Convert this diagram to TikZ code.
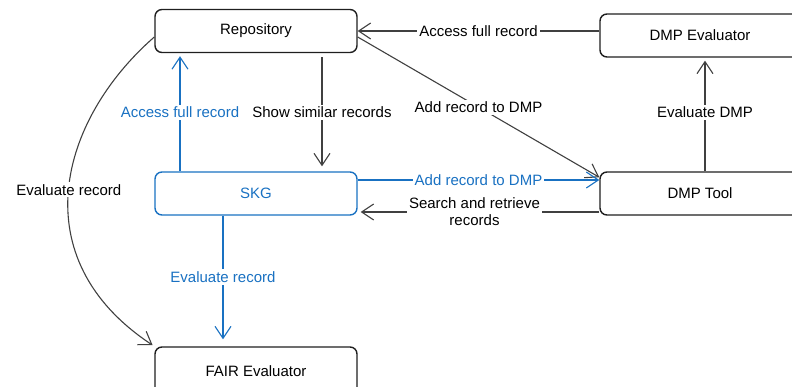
\documentclass[tikz,border=0pt]{standalone}
\usepackage{fontspec}
\setmainfont{Liberation Sans}
\usepackage{tikz}
\usetikzlibrary{arrows.meta,positioning}
\definecolor{skgblue}{HTML}{1971C2}
\definecolor{linegray}{HTML}{404040}
\tikzset{
    box/.style={draw=black!88, line width=1.4pt, rounded corners=7pt,
        minimum width=202pt, minimum height=43pt, inner sep=0pt,
        font=\fontsize{15}{17}\selectfont},
    flow/.style={draw=linegray, line width=1.1pt,
        -{Straight Barb[length=12pt,width=16pt]}},
    lbl/.style={fill=white, inner sep=2pt, align=center,
        font=\fontsize{15}{17}\selectfont},
}

\begin{document}
\begin{tikzpicture}[x=1pt, y=-1pt]
                \useasboundingbox (0,0) rectangle (792,387);
                % boxes
                \node[box] (repo)    at (256,31)    {Repository};
                \node[box, minimum width=200pt] (dmpeval) at (700,35.5) {DMP Evaluator};
                \node[box, draw=skgblue, text=skgblue] (skg) at (256,193.5) {SKG};
                \node[box, minimum width=200pt] (dmptool) at (700,193.5) {DMP Tool};
                \node[box, minimum height=48pt] (fair) at (256,371) {FAIR Evaluator};
                % black connectors
                \draw[flow] (dmpeval.west |- repo.east) -- (repo.east)
                    node[lbl, midway]{Access full record};
                \draw[flow] ([yshift=-6pt]repo.east) -- ([yshift=-6pt]dmptool.north west)
                    node[lbl, midway]{Add record to DMP};
                \draw[flow, shorten <=4pt, shorten >=5pt] ([xshift=66pt]repo.south) -- ([xshift=66pt]skg.north)
                    node[lbl, midway]{Show similar records};
                \draw[flow, shorten >=3pt] ([yshift=-18.5pt]dmptool.west) -- ([yshift=-18.5pt]skg.east)
                    node[lbl, midway, xshift=-4pt]{Search and retrieve\\records};
                \draw[flow, shorten >=3pt] ([xshift=5pt]dmptool.north) -- ([xshift=5pt]dmpeval.south)
                    node[lbl, midway, yshift=2pt]{Evaluate DMP};
                \draw[flow, shorten >=2pt] ([yshift=-6pt]repo.west)
                    .. controls +(-95,83) and +(-133,-88) .. (fair.north west)
                    node[lbl, pos=0.5]{Evaluate record};
                % blue connectors
                \draw[flow, draw=skgblue, shorten >=3pt] ([xshift=-76pt]skg.north) -- ([xshift=-76pt]repo.south)
                    node[lbl, midway, text=skgblue]{Access full record};
                \draw[flow, draw=skgblue] ([yshift=13.5pt]skg.east) -- ([yshift=13.5pt]dmptool.west)
                    node[lbl, midway, text=skgblue]{Add record to DMP};
                \draw[flow, draw=skgblue, shorten >=7pt] ([xshift=-33pt]skg.south) -- ([xshift=-33pt]fair.north)
                    node[lbl, midway, yshift=4pt, text=skgblue]{Evaluate record};
            \end{tikzpicture}
\end{document}
